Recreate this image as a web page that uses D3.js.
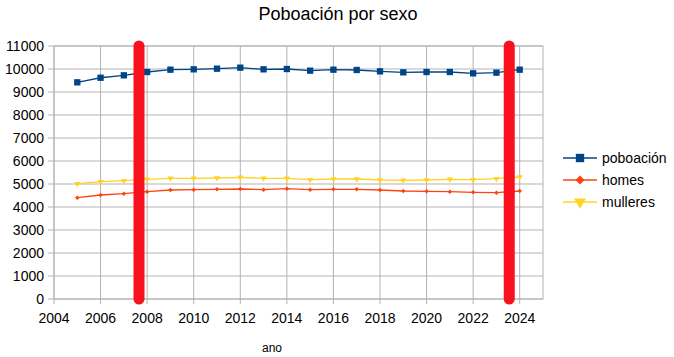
<!DOCTYPE html>
<html><head><meta charset="utf-8">
<script src="https://cdn.jsdelivr.net/npm/d3@7"></script>
<style>body{margin:0;background:#fff}svg{display:block;font-family:"Liberation Sans",Arial,sans-serif}</style>
</head><body><svg id="c" width="674" height="357"></svg>
<script>
const years = [2005,2006,2007,2008,2009,2010,2011,2012,2013,2014,2015,2016,2017,2018,2019,2020,2021,2022,2023,2024];
const poboacion = [9420,9620,9725,9870,9970,9986,10014,10058,9986,10000,9928,9970,9957,9899,9855,9870,9870,9812,9841,9970];
const homes = [4406,4522,4580,4667,4739,4754,4768,4783,4754,4797,4754,4768,4768,4739,4696,4681,4667,4638,4623,4696];
const mulleres = [5014,5101,5145,5203,5246,5246,5261,5290,5246,5246,5188,5217,5217,5174,5159,5174,5203,5188,5232,5304];
const xTicks = [2004,2006,2008,2010,2012,2014,2016,2018,2020,2022,2024];
const yTicks = [0,1000,2000,3000,4000,5000,6000,7000,8000,9000,10000,11000];
const highlightYears = [2007.65, 2023.55];
const seriesNames = ["poboación","homes","mulleres"];
const colors = ["#004586","#ff420e","#ffd320"];

const svg = d3.select("#c");
const x = d3.scaleLinear().domain([2004,2025]).range([54,543]);
const y = d3.scaleLinear().domain([0,11000]).range([299,46]);

// grid
svg.append("g").selectAll("line").data(yTicks).join("line")
  .attr("x1",48).attr("x2",543).attr("y1",d=>y(d)).attr("y2",d=>y(d))
  .attr("stroke","#b3b3b3").attr("stroke-width",1);
svg.append("g").selectAll("line").data(xTicks).join("line")
  .attr("x1",d=>x(d)).attr("x2",d=>x(d)).attr("y1",46).attr("y2",304)
  .attr("stroke","#b3b3b3").attr("stroke-width",1);
svg.append("rect").attr("x",x(2004)).attr("y",46).attr("width",x(2025)-x(2004)).attr("height",253)
  .attr("fill","none").attr("stroke","#b3b3b3");

// tick labels
svg.append("g").selectAll("text").data(yTicks).join("text")
  .attr("x",44).attr("y",d=>y(d)).attr("dy","0.35em").attr("text-anchor","end")
  .attr("font-size",14).attr("fill","#000").text(d=>d);
svg.append("g").selectAll("text").data(xTicks).join("text")
  .attr("x",d=>x(d)).attr("y",318).attr("dy","0.35em").attr("text-anchor","middle")
  .attr("font-size",14).attr("fill","#000").text(d=>d);

svg.append("text").attr("x",338).attr("y",14).attr("dy","0.35em").attr("text-anchor","middle")
  .attr("font-size",18).text("Poboación por sexo");
svg.append("text").attr("x",272).attr("y",348).attr("dy","0.35em").attr("text-anchor","middle")
  .attr("font-size",12).text("ano");

const data = [poboacion, homes, mulleres];
const line = d3.line().x((d,i)=>x(years[i])).y(d=>y(d));
const sym = [d3.symbolSquare, d3.symbolSquare, d3.symbolTriangle];
const rot = ["", " rotate(45)", " rotate(180)"];
const sizes = [40, 10, 16];
data.forEach((vals,k)=>{
  const g = svg.append("g");
  g.append("path").datum(vals).attr("d",line).attr("fill","none").attr("stroke",colors[k]).attr("stroke-width",1.3);
  g.selectAll("path.m").data(vals).join("path").attr("class","m")
    .attr("d",d3.symbol().type(sym[k]).size(sizes[k]))
    .attr("transform",(d,i)=>`translate(${x(years[i])},${y(d)})`+rot[k])
    .attr("fill",colors[k]);
});

// legend
const lg = svg.append("g");
seriesNames.forEach((n,k)=>{
  const yy = 158 + k*22;
  lg.append("line").attr("x1",563).attr("x2",597).attr("y1",yy).attr("y2",yy).attr("stroke",colors[k]).attr("stroke-width",1.3);
  lg.append("path").attr("d",d3.symbol().type(sym[k]).size([70,40,60][k]))
    .attr("transform",`translate(580,${yy})`+rot[k]).attr("fill",colors[k]);
  lg.append("text").attr("x",602).attr("y",yy).attr("dy","0.35em").attr("font-size",14).text(n);
});

// red highlight marks
svg.append("g").selectAll("line").data(highlightYears).join("line")
  .attr("x1",d=>x(d)).attr("x2",d=>x(d)).attr("y1",y(11000)).attr("y2",y(0))
  .attr("stroke","#f8101c").attr("stroke-width",11).attr("stroke-linecap","round");
</script></body></html>
